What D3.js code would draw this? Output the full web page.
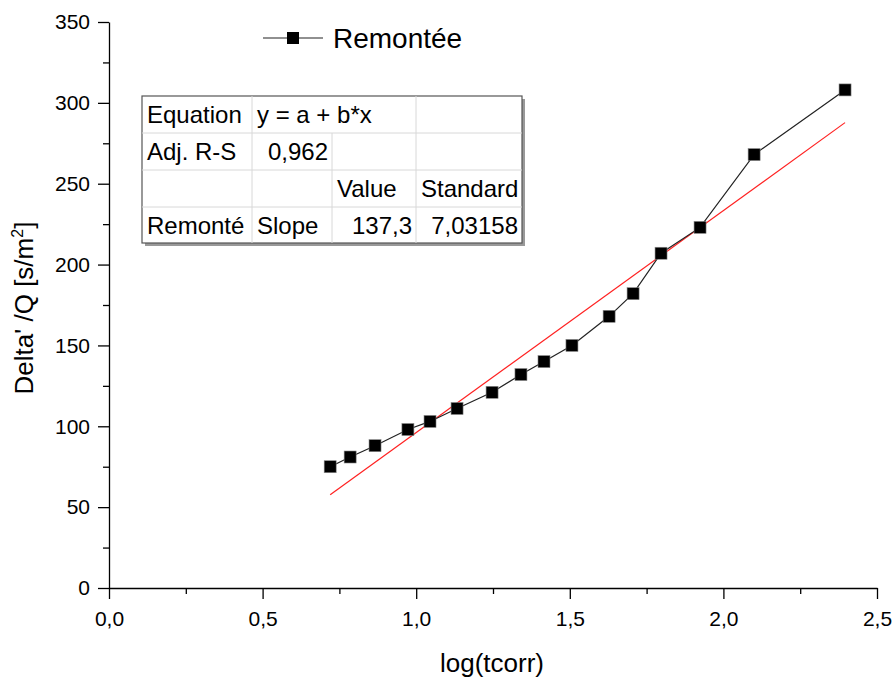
<!DOCTYPE html>
<meta charset="utf-8">
<style>
body { margin: 0; background: #fff; }
text { font-family: "Liberation Sans", Arial, sans-serif; fill: #000; }
.axis path, .axis line { stroke: #000; stroke-width: 1.3; }
.axis text { font-size: 21px; }
.tbl text { font-size: 24px; }
</style>
<svg id="chart" width="896" height="680"></svg>
<script src="https://d3js.org/d3.v7.min.js"></script>
<script>

// data
var logT = [0.72, 0.785, 0.866, 0.973, 1.045, 1.133, 1.247, 1.341, 1.416, 1.507, 1.628, 1.706, 1.797, 1.924, 2.100, 2.396];
var deltaQ = [75, 81, 88, 98, 103, 111, 121, 132, 140, 150, 168, 182, 207, 223, 268, 308];
var fitIntercept = -41.2;
var fitSlope = 137.3;
var xTicks = [0, 0.5, 1.0, 1.5, 2.0, 2.5];
var yTicks = [0, 50, 100, 150, 200, 250, 300, 350];
var seriesName = "Remontée";
var tableRows = [
  ["Equation", "y = a + b*x", "", ""],
  ["Adj. R-S", "0,962", "", ""],
  ["", "", "Value", "Standard"],
  ["Remonté", "Slope", "137,3", "7,03158"]
];

var svg = d3.select("#chart");
var margin = {left: 109, right: 19, top: 22, bottom: 92};
var width = 896 - margin.left - margin.right,
    height = 680 - margin.top - margin.bottom;

var x = d3.scaleLinear().domain([0, 2.5]).range([margin.left, margin.left + width]);
var y = d3.scaleLinear().domain([0, 350]).range([margin.top + height, margin.top]);

var fr = d3.formatLocale({decimal: ",", thousands: ".", grouping: [3], currency: ["", ""]});
var fmt1 = fr.format(".1f");

// minor ticks
var g = svg.append("g");
g.append("g").attr("class", "axis")
    .attr("transform", "translate(0," + y(0) + ")")
    .call(d3.axisBottom(x).tickValues(d3.range(0.25, 2.5, 0.5)).tickSize(6).tickFormat(""))
    .select(".domain").remove();
g.append("g").attr("class", "axis")
    .attr("transform", "translate(" + x(0) + ",0)")
    .call(d3.axisLeft(y).tickValues(d3.range(25, 350, 50)).tickSize(6).tickFormat(""))
    .select(".domain").remove();

var xAxis = svg.append("g").attr("class", "axis")
    .attr("transform", "translate(0," + y(0) + ")")
    .call(d3.axisBottom(x).tickValues(xTicks).tickSize(11).tickSizeOuter(0).tickFormat(fmt1));
xAxis.selectAll("text").attr("y", 23).attr("dy", "0.71em");

var yAxis = svg.append("g").attr("class", "axis")
    .attr("transform", "translate(" + x(0) + ",0)")
    .call(d3.axisLeft(y).tickValues(yTicks).tickSize(11).tickSizeOuter(0));
yAxis.selectAll("text").attr("x", -19);

// axis titles
svg.append("text")
    .attr("x", x(1.25) - 1).attr("y", 672)
    .attr("text-anchor", "middle")
    .style("font-size", "26px")
    .text("log(tcorr)");

var yl = svg.append("text")
    .attr("transform", "translate(33," + (y(175) + 3) + ") rotate(-90)")
    .attr("text-anchor", "middle")
    .style("font-size", "26px");
yl.append("tspan").text("Delta' /Q [s/m");
yl.append("tspan").attr("dy", -10).style("font-size", "16px").text("2");
yl.append("tspan").attr("dy", 10).text("]");

// fit line
svg.append("line")
    .attr("x1", x(logT[0])).attr("y1", y(fitIntercept + fitSlope * logT[0]))
    .attr("x2", x(logT[logT.length - 1])).attr("y2", y(fitIntercept + fitSlope * logT[logT.length - 1]))
    .attr("stroke", "#ff2020").attr("stroke-width", 1.2);

// series
var pts = logT.map(function(d, i) { return [d, deltaQ[i]]; });
svg.append("path")
    .datum(pts)
    .attr("fill", "none")
    .attr("stroke", "#222")
    .attr("stroke-width", 1.2)
    .attr("d", d3.line().x(function(d) { return x(d[0]); }).y(function(d) { return y(d[1]); }));

svg.append("g").selectAll("rect")
    .data(pts)
  .enter().append("rect")
    .attr("x", function(d) { return x(d[0]) - 6; })
    .attr("y", function(d) { return y(d[1]) - 6; })
    .attr("width", 12).attr("height", 12)
    .attr("fill", "#000").attr("stroke", "#888").attr("stroke-width", 0.6);

// legend
var lg = svg.append("g").attr("transform", "translate(263,38)");
lg.append("line").attr("x1", 0).attr("x2", 60).attr("stroke", "#222").attr("stroke-width", 1.2);
lg.append("rect").attr("x", 24).attr("y", -6).attr("width", 12).attr("height", 12).attr("fill", "#000");
lg.append("text").attr("x", 70).attr("y", 10).style("font-size", "28px").text(seriesName);

// stats table
var colX = [142, 252, 332, 416, 522];
var rowY = [96, 133, 170, 207, 243];
var tbl = svg.append("g").attr("class", "tbl");
tbl.append("rect")
    .attr("x", colX[0] + 3).attr("y", rowY[0] + 3)
    .attr("width", colX[4] - colX[0]).attr("height", rowY[4] - rowY[0])
    .attr("fill", "#999");
tbl.append("rect")
    .attr("x", colX[0]).attr("y", rowY[0])
    .attr("width", colX[4] - colX[0]).attr("height", rowY[4] - rowY[0])
    .attr("fill", "#fff").attr("stroke", "#555").attr("stroke-width", 1.2);
rowY.slice(1, 4).forEach(function(ry) {
  tbl.append("line").attr("x1", colX[0]).attr("x2", colX[4]).attr("y1", ry).attr("y2", ry)
     .attr("stroke", "#d8d8d8");
});
[1, 2, 3].forEach(function(c) {
  tbl.append("line").attr("x1", colX[c]).attr("x2", colX[c])
     .attr("y1", c === 2 ? rowY[1] : rowY[0]).attr("y2", rowY[4])
     .attr("stroke", "#d8d8d8");
});
tableRows.forEach(function(row, r) {
  row.forEach(function(cell, c) {
    if (!cell) return;
    var right = (r === 1 && c === 1) || (r === 3 && c >= 2);
    tbl.append("text")
      .attr("x", right ? colX[c + 1] - 4 : colX[c] + 5)
      .attr("y", rowY[r] + 27)
      .attr("text-anchor", right ? "end" : "start")
      .text(cell);
  });
});

</script>
